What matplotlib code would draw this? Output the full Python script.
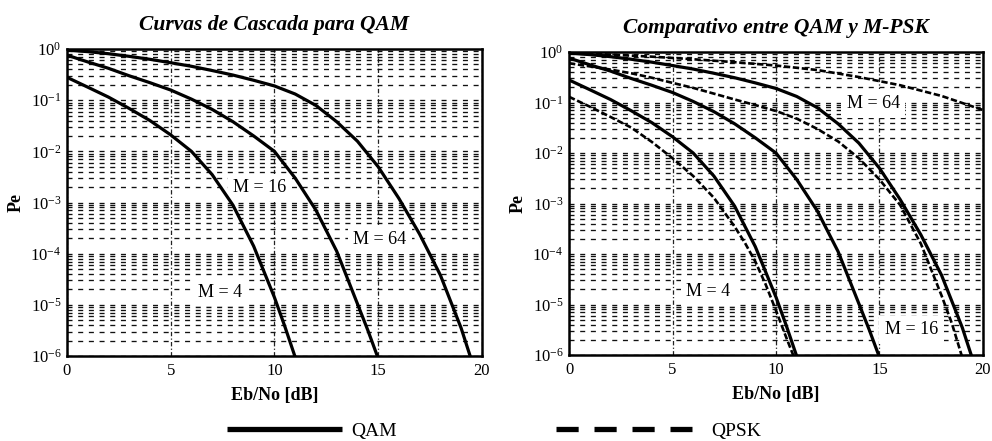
import numpy as np
import matplotlib
matplotlib.use("Agg")
import matplotlib.pyplot as plt
from matplotlib.ticker import LogLocator, FixedLocator, NullFormatter
from matplotlib.lines import Line2D

plt.rcParams['font.family'] = ['Liberation Serif', 'DejaVu Serif']
plt.rcParams['mathtext.fontset'] = 'custom'
plt.rcParams['mathtext.rm'] = 'Liberation Serif'
plt.rcParams['mathtext.it'] = 'Liberation Serif:italic'
plt.rcParams['mathtext.bf'] = 'Liberation Serif:bold'

# ---------------- data ----------------
# Eb/No in dB, Pe values
qam4_db = [0, 1, 2, 3, 4, 5, 6, 7, 8, 9, 10, 10.5, 11.0]
qam4_pe = [2.8e-1, 1.8e-1, 1.15e-1, 6.9e-2, 4.0e-2, 2.1e-2, 1.0e-2, 3.5e-3,
           8.9e-4, 1.4e-4, 1.4e-5, 3.8e-6, 9.5e-7]

qam16_db = [0, 1, 2, 3, 4, 5, 6, 7, 8, 9, 10, 11, 12, 13, 14, 14.5, 15.0]
qam16_pe = [7.6e-1, 5.6e-1, 4.2e-1, 3.0e-1, 2.2e-1, 1.58e-1, 1.05e-1, 6.6e-2,
            3.8e-2, 2.0e-2, 1.0e-2, 3.0e-3, 7.1e-4, 1.12e-4, 1.05e-5,
            3.2e-6, 9.0e-7]

qam64_db = [0, 1, 2, 3, 4, 5, 6, 7, 8, 9, 10, 11, 12, 13, 14, 15, 16,
            17, 18, 19, 19.45]
qam64_pe = [9.5e-1, 8.9e-1, 8.1e-1, 7.2e-1, 6.3e-1, 5.4e-1, 4.6e-1, 3.8e-1,
            3.1e-1, 2.45e-1, 1.9e-1, 1.32e-1, 7.9e-2, 3.8e-2, 1.58e-2,
            5.0e-3, 1.2e-3, 2.4e-4, 3.8e-5, 3.5e-6, 9.5e-7]

psk4_db = [0, 1, 2, 3, 4, 5, 6, 7, 8, 8.5, 9, 9.5, 10, 10.5, 10.85]
psk4_pe = [1.3e-1, 8.3e-2, 5.2e-2, 3.2e-2, 1.66e-2, 7.9e-3, 3.5e-3, 1.3e-3,
           3.5e-4, 1.66e-4, 7.1e-5, 2.5e-5, 7.6e-6, 2.2e-6, 9.5e-7]

psk16_db = [0, 1, 2, 3, 4, 5, 6, 7, 8, 9, 10, 11, 12, 13, 14, 15, 16,
            17, 18, 18.5, 18.98]
psk16_pe = [6.0e-1, 5.2e-1, 4.5e-1, 3.8e-1, 3.1e-1, 2.45e-1, 1.95e-1, 1.5e-1,
            1.15e-1, 8.9e-2, 6.8e-2, 4.8e-2, 3.0e-2, 1.7e-2, 7.9e-3, 3.0e-3,
            9.3e-4, 1.6e-4, 1.5e-5, 4.2e-6, 9.5e-7]

psk64_db = [0, 2, 4, 6, 8, 10, 12, 14, 16, 18, 20]
psk64_pe = [9.5e-1, 8.9e-1, 8.1e-1, 7.2e-1, 6.3e-1, 5.4e-1, 4.4e-1, 3.2e-1,
            2.2e-1, 1.35e-1, 7.1e-2]

x_ticks = [0, 5, 10, 15, 20]
y_ticks = [1e-6, 1e-5, 1e-4, 1e-3, 1e-2, 1e-1, 1e0]

titles = ["Curvas de Cascada para QAM", "Comparativo entre QAM y M-PSK"]
xlabel = "Eb/No [dB]"
ylabel = "Pe"

left_labels = [("M = 16", 9.3, 10**-2.71), ("M = 64", 15.08, 10**-3.73), ("M = 4", 7.37, 10**-4.75)]
right_labels = [("M = 64", 14.7, 10**-1.02), ("M = 4", 6.73, 10**-4.75), ("M = 16", 16.55, 10**-5.5)]

legend_names = ["QAM", "QPSK"]

# ---------------- figure ----------------
fig = plt.figure(figsize=(9.92, 4.41), dpi=100)
ax1 = fig.add_axes([0.0675, 0.1927, 0.4183, 0.6961])
ax2 = fig.add_axes([0.5736, 0.195, 0.4173, 0.687])

solid_kw = dict(color='black', lw=2.3, solid_capstyle='butt', zorder=3)
dash_kw = dict(color='black', lw=1.9, dashes=(2.4, 1.0), zorder=3)


def style(ax, title):
    ax.set_yscale('log')
    ax.set_xlim(0, 20)
    ax.set_ylim(1e-6, 1)
    ax.xaxis.set_major_locator(FixedLocator(x_ticks))
    ax.yaxis.set_major_locator(FixedLocator(y_ticks))
    ax.yaxis.set_minor_locator(LogLocator(base=10, subs=np.arange(2, 10)))
    ax.yaxis.set_minor_formatter(NullFormatter())
    ax.grid(True, which='both', axis='y', color='#111111', lw=0.95,
            linestyle=(0, (3.8, 4.3)))
    ax.grid(True, which='major', axis='x', color='#222222', lw=0.9,
            linestyle=(0, (3.5, 1.8, 1.0, 1.8)))
    ax.tick_params(which='both', direction='in', length=0, labelsize=12, pad=4)
    ax.tick_params(axis='x', pad=5)
    for sp in ax.spines.values():
        sp.set_linewidth(1.8)
    ax.set_title(title, fontsize=15.5, fontstyle='italic', fontweight='bold', pad=14)
    ax.set_xlabel(xlabel, fontsize=13, fontweight='bold', labelpad=6)
    ax.set_ylabel(ylabel, fontsize=13, fontweight='bold', labelpad=4)


style(ax1, titles[0])
style(ax2, titles[1])

ax1.plot(qam4_db, qam4_pe, **solid_kw)
ax1.plot(qam16_db, qam16_pe, **solid_kw)
ax1.plot(qam64_db, qam64_pe, **solid_kw)

ax2.plot(qam4_db, qam4_pe, **solid_kw)
ax2.plot(qam16_db, qam16_pe, **solid_kw)
ax2.plot(qam64_db, qam64_pe, **solid_kw)
ax2.plot(psk4_db, psk4_pe, **dash_kw)
ax2.plot(psk16_db, psk16_pe, **dash_kw)
ax2.plot(psk64_db, psk64_pe, clip_on=False, **dash_kw)

box = dict(facecolor='white', edgecolor='none', pad=4)
for txt, x, y in left_labels:
    ax1.text(x, y, txt, fontsize=13, ha='center', va='center', bbox=box, zorder=2.5)
for txt, x, y in right_labels:
    ax2.text(x, y, txt, fontsize=13, ha='center', va='center', bbox=box, zorder=2.5)

# legends
h_qam = Line2D([], [], color='black', lw=3.8, solid_capstyle='butt')
h_psk = Line2D([], [], color='black', lw=3.8, dashes=(4.2, 3.0), dash_capstyle='butt')
leg1 = fig.legend([h_qam], [legend_names[0]], loc='center left',
                  bbox_to_anchor=(0.229, 0.022), frameon=False, fontsize=14,
                  handlelength=5.9, handletextpad=0.5, borderaxespad=0, borderpad=0)
leg2 = fig.legend([h_psk], [legend_names[1]], loc='center left',
                  bbox_to_anchor=(0.560, 0.022), frameon=False, fontsize=14,
                  handlelength=7.0, handletextpad=1.0, borderaxespad=0, borderpad=0)

fig.savefig("out.png", dpi=100)
